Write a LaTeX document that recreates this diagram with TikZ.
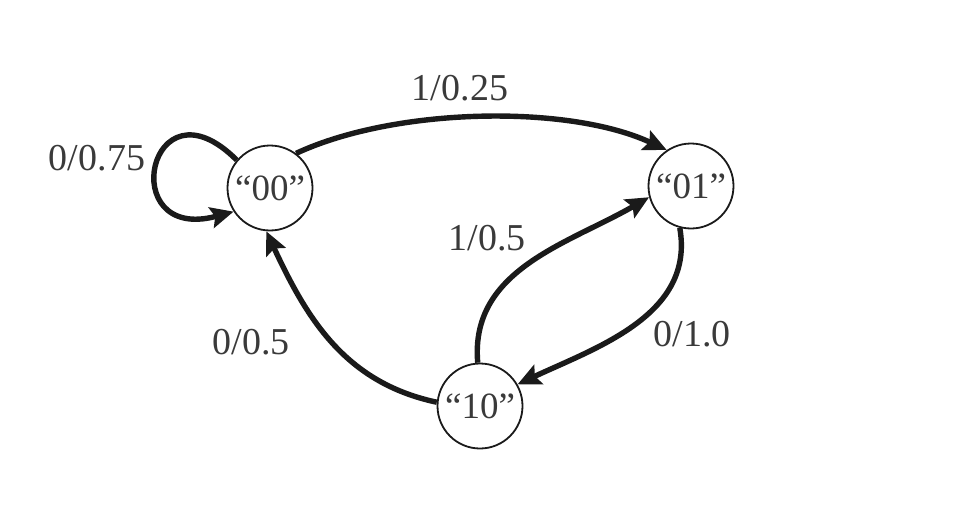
\documentclass[tikz,border=0pt]{standalone}
\usepackage{fontspec}
\setmainfont{Liberation Serif}
\usetikzlibrary{arrows.meta}
\definecolor{txt}{HTML}{3A3A3A}
\definecolor{ink}{HTML}{1A1A1A}
\begin{document}
\begin{tikzpicture}[x=1pt,y=-1pt,
  state/.style={circle,draw=ink,line width=1.8pt,minimum size=85pt,inner sep=0pt,
    text=txt,font=\fontsize{37}{40}\selectfont},
  lbl/.style={text=txt,font=\fontsize{38}{40}\selectfont,inner sep=0pt},
  edge/.style={draw=ink,line width=5.4pt,-{Stealth[length=23pt,width=21pt,inset=4pt]}}]
\useasboundingbox (0,0) rectangle (960,516);
\node[state] (s00) at (270,188) {“00”};
\node[state] (s01) at (691,186) {“01”};
\node[state] (s10) at (480,406) {“10”};
\draw[edge] (s00.140) .. controls +(-135:124) and +(-195:124) .. (s00.213);
\draw[edge] (s00.53) to[out=25,in=155,looseness=0.75] (s01.124);
\draw[edge] (s01.-105) to[out=-80,in=25] (s10.30);
\draw[edge] (s10.93) to[out=95,in=210] (s01.195);
\draw[edge] (s10.175) to[out=168,in=-65] (s00.-95);
\node[lbl] (l1) at (97,158) {0/0.75};
\node[lbl] (l2) at (460,88) {1/0.25};
\node[lbl] (l3) at (487,238) {1/0.5};
\node[lbl] (l4) at (692,334) {0/1.0};
\node[lbl] (l5) at (251,342) {0/0.5};
\end{tikzpicture}
\end{document}
